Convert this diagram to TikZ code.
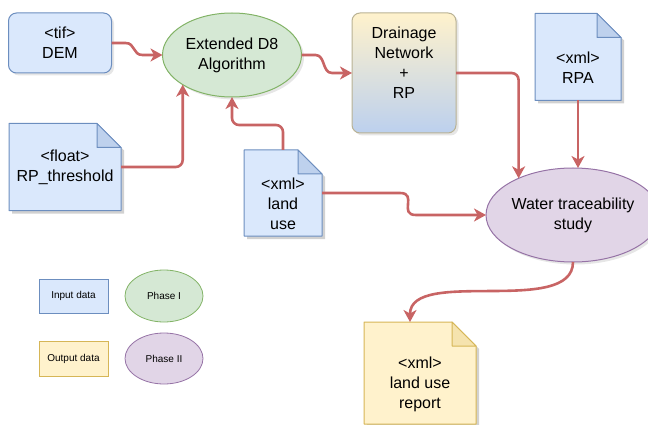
\documentclass[tikz,border=0pt]{standalone}
\usepackage{fontspec}
\setmainfont{Liberation Sans}
\usetikzlibrary{arrows.meta,shadows,calc,shapes.geometric}
\definecolor{blueF}{HTML}{DAE8FC}
\definecolor{blueD}{HTML}{6C8EBF}
\definecolor{greenF}{HTML}{D5E8D4}
\definecolor{greenD}{HTML}{82B366}
\definecolor{purpleF}{HTML}{E1D5E7}
\definecolor{purpleD}{HTML}{9673A6}
\definecolor{yellowF}{HTML}{FFF2CC}
\definecolor{yellowD}{HTML}{D6B656}
\definecolor{arrowC}{HTML}{C86464}
\definecolor{drainB}{HTML}{BCD0EE}
\definecolor{drainD}{HTML}{B9B294}
\newcommand{\docnote}[3]{%
 \fill[black,opacity=0.18] ([shift={(3pt,-3pt)}]#1.north west) -- ([shift={(3pt-24pt,-3pt)}]#1.north east) -- ([shift={(3pt,-3pt-24pt)}]#1.north east) -- ([shift={(3pt,-3pt)}]#1.south east) -- ([shift={(3pt,-3pt)}]#1.south west) -- cycle;
 \filldraw[fill=#2,draw=#3,line width=1pt,line join=round] (#1.north west) -- ([xshift=-24pt]#1.north east) -- ([yshift=-24pt]#1.north east) -- (#1.south east) -- (#1.south west) -- cycle;
 \filldraw[fill=#3!25!#2,draw=#3,line width=1pt,line join=round] ([xshift=-24pt]#1.north east) -- ([xshift=-24pt,yshift=-24pt]#1.north east) -- ([yshift=-24pt]#1.north east) -- cycle;
}
\begin{document}
\begin{tikzpicture}[x=1pt,y=-1pt,
  main/.style={font=\fontsize{16}{20}\selectfont, align=center},
  leg/.style={font=\fontsize{10}{12}\selectfont, align=center, line width=0.8pt, outer sep=0pt, inner sep=0pt},
  shp/.style={line width=1pt, outer sep=0pt, inner sep=0pt},
  shd/.style={drop shadow={shadow xshift=2.5pt, shadow yshift=-2.5pt, opacity=0.2}},
  arr/.style={draw=arrowC, line width=2.6pt, -{Stealth[length=12pt,width=13pt,inset=3.5pt]}},
  ortho/.style={arr, rounded corners=7pt}]
\useasboundingbox (0,0) rectangle (648,425);

% main shapes
\node[shp, shd, main, draw=blueD, fill=blueF, rounded corners=8pt, minimum width=103pt, minimum height=60pt] (dem) at (60,43) {<tif>\\DEM};
\node[shp, shd, main, ellipse, draw=greenD, fill=greenF, minimum width=139pt, minimum height=84pt] (d8) at (232,55) {Extended D8\\Algorithm};
\node[shp, shd, draw=drainD, top color=yellowF, bottom color=drainB, rounded corners=8pt, minimum width=104pt, minimum height=120pt] (drain) at (404,73) {};
\node[main] (drainT) at ([yshift=10pt]drain.center) {Drainage\\Network\\+\\RP};
\node[shp, shd, main, ellipse, draw=purpleD, fill=purpleF, minimum width=147pt, minimum height=94pt] (water) at (573,215) {Water traceability\\study};

% documents
\node[shp, minimum width=86pt, minimum height=87pt] (rpa) at (578,57) {};
\docnote{rpa}{blueF}{blueD}
\node[main] (rpaT) at ([yshift=-11pt]rpa.center) {<xml>\\RPA};

\node[shp, minimum width=112pt, minimum height=87pt] (rpt) at (65,167) {};
\docnote{rpt}{blueF}{blueD}
\node[main] (rptT) at (rpt.center) {<float>\\RP\_threshold};

\node[shp, minimum width=78pt, minimum height=86pt] (lu) at (283,193) {};
\docnote{lu}{blueF}{blueD}
\node[main] (luT) at ([yshift=-11pt]lu.center) {<xml>\\land\\use};

\node[shp, minimum width=112pt, minimum height=102pt] (rep) at (420,373) {};
\docnote{rep}{yellowF}{yellowD}
\node[main] (repT) at ([yshift=-11pt]rep.center) {<xml>\\land use\\report};

% legend
\node[leg, draw=blueD, fill=blueF, minimum width=69pt, minimum height=34pt] (legIn) at (73.5,296) {Input data};
\node[leg, ellipse, draw=greenD, fill=greenF, minimum width=78pt, minimum height=52pt] (legP1) at (164,296) {Phase I};
\node[leg, draw=yellowD, fill=yellowF, minimum width=69pt, minimum height=35pt] (legOut) at (73.5,358.5) {Output data};
\node[leg, ellipse, draw=purpleD, fill=purpleF, minimum width=78pt, minimum height=51pt] (legP2) at (164,358.5) {Phase II};

% connectors
\draw[arr] (dem.east) -- ([xshift=14pt]dem.east) .. controls +(10,0) and +(-10,0) .. ([xshift=-20pt]d8.west) -- (d8.west);
\draw[ortho] (rpt.east) -| (d8.211);
\draw[ortho] (lu.north) -- ++(0,-25) -| (d8.south);
\draw[arr] (d8.east) -- ([xshift=14pt]d8.east) .. controls +(10,0) and +(-10,0) .. ([xshift=-20pt]drain.west) -- (drain.west);
\draw[ortho] (drain.east) -| (water.146);
\draw[arr] (rpa.south) -- (rpa.south |- water.north);
\draw[arr] (lu.east) -- ([xshift=78pt]lu.east) .. controls +(18,0) and +(-18,0) .. ([xshift=-70pt]water.west) -- (water.west);
\draw[arr] (water.south) .. controls +(0,55) and +(0,-55) .. ([xshift=-10pt]rep.north);
\end{tikzpicture}
\end{document}
